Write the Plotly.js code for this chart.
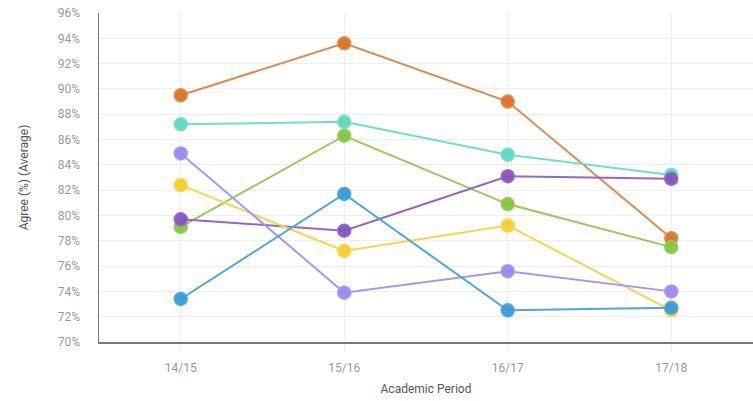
<!DOCTYPE html>
<html>
<head>
<meta charset="utf-8">
<script src="https://cdn.plot.ly/plotly-3.0.1.min.js"></script>
<style>html,body{margin:0;padding:0;background:#fff;}#chart{width:753px;height:401px;}</style>
</head>
<body>
<div id="chart"></div>
<script>
var periods = ["14/15", "15/16", "16/17", "17/18"];
var seriesNames = ["Series A", "Series B", "Series C", "Series D", "Series E", "Series F", "Series G"];
var seriesA = [89.5, 93.6, 89.0, 78.2];   // orange
var seriesB = [87.2, 87.4, 84.8, 83.2];   // teal
var seriesC = [79.1, 86.3, 80.9, 77.5];   // green
var seriesD = [79.7, 78.8, 83.1, 82.9];   // purple
var seriesE = [82.4, 77.2, 79.2, 72.5];   // yellow
var seriesF = [84.9, 73.9, 75.6, 74.0];   // lavender
var seriesG = [73.4, 81.7, 72.5, 72.7];   // blue
var yTicks = [70, 72, 74, 76, 78, 80, 82, 84, 86, 88, 90, 92, 94, 96];
var yTickText = yTicks.map(function(v){ return v + "%"; });

var allSeries = [seriesA, seriesB, seriesC, seriesD, seriesE, seriesF, seriesG];
var lineColors = ["#e08a4a", "#6fe0c8", "#94cc55", "#9566c4", "#f7d54a", "#a596f2", "#4aa8dd"];
var markerColors = ["#d8742a", "#5ed8bd", "#85c540", "#8654bd", "#f5cf2f", "#9a88ef", "#3a9ad6"];

var traces = allSeries.map(function(vals, i){
  return {
    x: periods, y: vals, name: seriesNames[i], type: "scatter", mode: "lines+markers",
    line: {color: lineColors[i], width: 2},
    marker: {color: markerColors[i], size: 13, opacity: 0.95, line: {color: lineColors[i], width: 1.5}},
    hoverinfo: "x+y"
  };
});

var layout = {
  width: 753, height: 401,
  margin: {l: 99, r: 0, t: 13, b: 59},
  paper_bgcolor: "#fff", plot_bgcolor: "#fff",
  showlegend: false,
  font: {family: "Roboto, 'Liberation Sans', sans-serif", color: "#999", size: 12},
  xaxis: {
    type: "category", range: [-0.5, 3.5],
    showgrid: true, gridcolor: "#eeeeee", gridwidth: 1,
    showline: true, linecolor: "#777", linewidth: 1.5,
    ticks: "outside", ticklen: 8, tickcolor: "#eeeeee", tickwidth: 1,
    tickfont: {size: 12, color: "#999"},
    ticklabelstandoff: 6,
    zeroline: false,
    title: {text: "Academic Period", font: {size: 12, color: "#555"}, standoff: 10}
  },
  yaxis: {
    range: [70, 96], tickvals: yTicks, ticktext: yTickText,
    showgrid: true, gridcolor: "#eeeeee", gridwidth: 1,
    showline: true, linecolor: "#777", linewidth: 1.5,
    ticks: "outside", ticklen: 12, tickcolor: "rgba(0,0,0,0)",
    ticklabelstandoff: 3,
    tickfont: {size: 12, color: "#999"},
    zeroline: false,
    title: {text: "Agree (%) (Average)", font: {size: 12, color: "#555"}, standoff: 26}
  }
};

Plotly.newPlot("chart", traces, layout, {displayModeBar: false, staticPlot: true});
</script>
</body>
</html>
